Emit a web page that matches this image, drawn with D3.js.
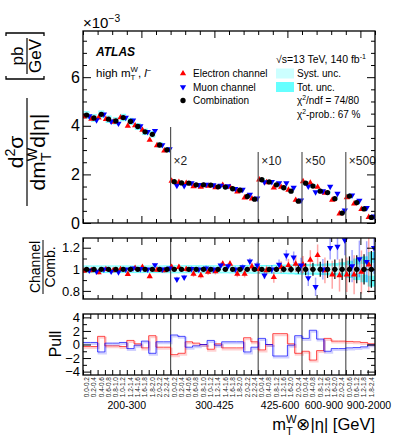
<!DOCTYPE html>
<html>
<head>
<meta charset="utf-8">
<style>
  html, body { margin: 0; overflow: hidden; background: #fff; }
  svg { display: block; font-family: "Liberation Sans", Arial, Helvetica, sans-serif; }
  .frame { fill: none; stroke: #000; stroke-width: 1.3px; }
  .axis path { display: none; }
  .axis line { stroke: #000; stroke-width: 1px; }
  .axis text { fill: #000; font-family: "Liberation Sans", Arial, sans-serif; }
  .sep { stroke: #555; stroke-width: 1.2px; }
</style>
<script src="https://d3js.org/d3.v7.min.js"></script>
</head>
<body>
<svg id="svg" width="399" height="437"></svg>
<script>
// ---- data ----
var mtBins = ["200-300", "300-425", "425-600", "600-900", "900-2000"];
var mtScale = [1, 2, 10, 50, 500];
var etaFine = ["0.0-0.2", "0.2-0.4", "0.4-0.6", "0.6-0.8", "0.8-1.0", "1.0-1.2",
               "1.2-1.4", "1.4-1.6", "1.6-1.8", "1.8-2.0", "2.0-2.2", "2.2-2.4"];
var etaMid = ["0.0-0.4", "0.4-0.8", "0.8-1.2", "1.2-1.6", "1.6-2.0", "2.0-2.4"];
var etaWide = ["0.0-0.6", "0.6-1.2", "1.2-1.8", "1.8-2.4"];
var etaPerMt = [etaFine, etaFine, etaMid, etaMid, etaWide];

// combined cross section, 1e-3 pb/GeV (unscaled)
var comb = [4.44, 4.32, 4.47, 4.27, 4.20, 4.34, 4.18, 3.97, 3.75, 3.65, 3.21, 3.01,
            0.850, 0.825, 0.820, 0.785, 0.785, 0.780, 0.745, 0.740, 0.705, 0.675, 0.545, 0.490,
            0.178, 0.169, 0.157, 0.145, 0.131, 0.090,
            0.0328, 0.0304, 0.0262, 0.0250, 0.0200, 0.0082,
            0.00222, 0.00168, 0.00116, 0.00046];
// relative uncertainties of the combination
var totUnc = [0.035, 0.035, 0.035, 0.035, 0.035, 0.035, 0.035, 0.035, 0.035, 0.035, 0.035, 0.036,
              0.037, 0.037, 0.037, 0.037, 0.037, 0.037, 0.037, 0.037, 0.038, 0.038, 0.039, 0.04,
              0.04, 0.04, 0.042, 0.044, 0.046, 0.05,
              0.05, 0.05, 0.052, 0.055, 0.058, 0.065,
              0.08, 0.10, 0.12, 0.16];
var systUnc = [0.026, 0.026, 0.026, 0.026, 0.026, 0.026, 0.026, 0.026, 0.026, 0.026, 0.026, 0.027,
               0.027, 0.027, 0.027, 0.027, 0.027, 0.027, 0.027, 0.027, 0.028, 0.028, 0.028, 0.029,
               0.028, 0.028, 0.029, 0.03, 0.031, 0.033,
               0.03, 0.03, 0.031, 0.032, 0.033, 0.036,
               0.038, 0.045, 0.05, 0.06];
var combErr = [0.006, 0.006, 0.006, 0.006, 0.006, 0.006, 0.006, 0.006, 0.006, 0.006, 0.007, 0.007,
               0.01, 0.01, 0.01, 0.01, 0.01, 0.01, 0.01, 0.01, 0.011, 0.012, 0.013, 0.015,
               0.02, 0.022, 0.025, 0.028, 0.03, 0.04,
               0.055, 0.06, 0.07, 0.08, 0.09, 0.10,
               0.12, 0.13, 0.14, 0.17];
// channel / combination
var ratioEl = [0.985, 0.99, 0.97, 1.0, 0.99, 1.0, 0.955, 1.01, 1.02, 0.935, 0.995, 0.99,
               1.02, 1.02, 1.0, 0.957, 0.944, 0.975, 0.98, 1.05, 1.05, 0.957, 0.957, 1.025,
               1.0, 0.99, 0.926, 1.02, 1.037, 1.05,
               1.043, 1.087, 1.13, 0.99, 0.95, 0.944,
               0.95, 0.95, 0.975, 1.043];
var ratioMu = [0.99, 0.98, 1.0, 0.98, 0.975, 1.0, 1.01, 1.005, 1.0, 1.04, 1.0, 1.01,
               0.907, 0.925, 1.005, 1.0, 1.01, 1.0, 1.037, 1.03, 1.0, 1.02, 1.074, 1.037,
               0.944, 1.0, 1.045, 1.13, 1.11, 1.037,
               0.92, 0.838, 1.0, 1.2, 1.21, 1.27,
               1.03, 1.096, 1.07, 1.2];
var errEl = [0.018, 0.018, 0.018, 0.018, 0.018, 0.018, 0.018, 0.018, 0.018, 0.018, 0.02, 0.02,
             0.028, 0.028, 0.028, 0.028, 0.028, 0.028, 0.028, 0.028, 0.03, 0.03, 0.032, 0.035,
             0.04, 0.045, 0.05, 0.055, 0.06, 0.075,
             0.08, 0.09, 0.10, 0.12, 0.13, 0.15,
             0.16, 0.18, 0.20, 0.26];
var errMu = [0.016, 0.016, 0.016, 0.016, 0.016, 0.016, 0.016, 0.016, 0.016, 0.016, 0.018, 0.018,
             0.025, 0.025, 0.025, 0.025, 0.025, 0.025, 0.025, 0.025, 0.027, 0.027, 0.03, 0.032,
             0.035, 0.04, 0.045, 0.05, 0.055, 0.07,
             0.075, 0.085, 0.095, 0.11, 0.12, 0.14,
             0.15, 0.17, 0.19, 0.24];
var pullEl = [-0.3, -0.3, 1.2, -0.2, -0.2, -0.3, 0.6, 0.1, -0.5, 1.3, -0.4, -0.4,
              -1.5, -1.3, 0.4, 0.2, 0.0, -0.7, 0.1, -0.5, -0.5, -0.5, 1.0, 0.4,
              -0.8, 0.0, 1.6, 1.6, 0.1, -1.3,
              -1.0, -2.3, -0.9, 0.9, 0.5, 0.5,
              0.45, 0.4, 0.3, 0.1];
var pullMu = [0.3, 0.3, -1.1, 0.2, 0.2, 0.3, -0.6, -0.1, 0.5, -1.3, 0.4, 0.4,
              1.4, 1.2, -0.4, -0.2, 0.0, 0.6, -0.1, 0.4, 0.4, 0.4, -1.1, -0.4,
              0.9, 0.0, -1.7, -1.7, -0.1, 1.3,
              0.9, 2.1, 0.8, -1.0, -0.6, -0.6,
              -0.5, -0.45, -0.35, -0.05];

// ---- layout ----
var L = 83, R = 375;
var top1 = 31, bot1 = 223, top2 = 238, bot2 = 299, top3 = 314, bot3 = 375;
var svg = d3.select("#svg");

var bins = [];
etaPerMt.forEach(function(etas, m) {
  etas.forEach(function(eta) { bins.push({ mt: m, eta: eta }); });
});
bins.forEach(function(b, i) {
  b.i = i;
  b.v = comb[i] * mtScale[b.mt];
});
var nBins = bins.length;
var sectionStart = [];
bins.forEach(function(b) { if (sectionStart.length === b.mt) sectionStart.push(b.i); });

var x = d3.scaleLinear().domain([0, nBins]).range([L, R]);
var bw = x(1) - x(0);
var yTop = d3.scaleLinear().domain([0, 7.9]).range([bot1, top1]);
var yRat = d3.scaleLinear().domain([0.725, 1.29]).range([bot2, top2]);
var yPull = d3.scaleLinear().domain([-4.5, 4.5]).range([bot3, top3]);

var redC = "#ff0000", blueC = "#0000ff";
var triUp = d3.symbol().type(d3.symbolTriangle).size(17);
var circ = d3.symbol().type(d3.symbolCircle).size(22);
var off = 0.36 * bw;

// clip paths for panels
var defs = svg.append("defs");
[[top1, bot1, "c1"], [top2, bot2, "c2"], [top3, bot3, "c3"]].forEach(function(p) {
  defs.append("clipPath").attr("id", p[2]).append("rect")
    .attr("x", L).attr("y", p[0]).attr("width", R - L).attr("height", p[1] - p[0]);
});

function range(a, b, s) { var r = []; for (var v = a; v <= b + 1e-9; v += s) r.push(+v.toFixed(4)); return r; }

function axes(sc, t, b, major, minor, fmt, fs, xMajor, xMinor, xMajLen, xMinLen) {
  var g = svg.append("g");
  g.append("g").attr("class", "axis").attr("transform", "translate(" + L + ",0)")
    .call(d3.axisLeft(sc).tickValues(major).tickSize(-8).tickPadding(3).tickFormat(fmt))
    .selectAll("text").style("font-size", fs + "px");
  g.append("g").attr("class", "axis").attr("transform", "translate(" + L + ",0)")
    .call(d3.axisLeft(sc).tickValues(minor).tickSize(-4).tickFormat(""));
  g.append("g").attr("class", "axis").attr("transform", "translate(" + R + ",0)")
    .call(d3.axisRight(sc).tickValues(major).tickSize(-8).tickFormat(""));
  g.append("g").attr("class", "axis").attr("transform", "translate(" + R + ",0)")
    .call(d3.axisRight(sc).tickValues(minor).tickSize(-4).tickFormat(""));
  [[b, d3.axisBottom], [t, d3.axisTop]].forEach(function(p) {
    g.append("g").attr("class", "axis").attr("transform", "translate(0," + p[0] + ")")
      .call(p[1](x).tickValues(xMajor).tickSize(-xMajLen).tickFormat(""));
    g.append("g").attr("class", "axis").attr("transform", "translate(0," + p[0] + ")")
      .call(p[1](x).tickValues(xMinor).tickSize(-xMinLen).tickFormat(""));
  });
  g.append("rect").attr("class", "frame").attr("x", L).attr("y", t)
    .attr("width", R - L).attr("height", b - t);
}

// ================= top panel =================
var p1 = svg.append("g").attr("clip-path", "url(#c1)");
p1.selectAll("rect.tot").data(bins).enter().append("rect")
  .attr("x", function(d) { return x(d.i + 0.1); }).attr("width", bw * 0.8)
  .attr("y", function(d) { return yTop(d.v * (1 + totUnc[d.i])); })
  .attr("height", function(d) { return yTop(d.v * (1 - totUnc[d.i])) - yTop(d.v * (1 + totUnc[d.i])); })
  .attr("fill", "#66ffff");
p1.selectAll("rect.syst").data(bins).enter().append("rect")
  .attr("x", function(d) { return x(d.i + 0.1); }).attr("width", bw * 0.8)
  .attr("y", function(d) { return yTop(d.v * (1 + systUnc[d.i])); })
  .attr("height", function(d) { return yTop(d.v * (1 - systUnc[d.i])) - yTop(d.v * (1 + systUnc[d.i])); })
  .attr("fill", "#ccffff");

// separators with scale labels
var sepTop = [127, 152, 152, 152];
sectionStart.slice(1).forEach(function(s, k) {
  svg.append("line").attr("class", "sep")
    .attr("x1", x(s)).attr("x2", x(s)).attr("y1", sepTop[k]).attr("y2", bot1);
  svg.append("text").attr("x", x(s) + 3).attr("y", 165)
    .attr("font-size", 12).attr("fill", "#222")
    .text("\u00d7" + mtScale[k + 1]);
});

p1.selectAll("path.el").data(bins).enter().append("path")
  .attr("d", triUp).attr("fill", redC)
  .attr("transform", function(d) { return "translate(" + (x(d.i + 0.5) - off) + "," + yTop(d.v * ratioEl[d.i]) + ")"; });
p1.selectAll("path.mu").data(bins).enter().append("path")
  .attr("d", triUp).attr("fill", blueC)
  .attr("transform", function(d) { return "translate(" + (x(d.i + 0.5) + off) + "," + yTop(d.v * ratioMu[d.i]) + ") rotate(180)"; });
p1.selectAll("path.cb").data(bins).enter().append("path")
  .attr("d", circ).attr("fill", "#000")
  .attr("transform", function(d) { return "translate(" + x(d.i + 0.5) + "," + yTop(d.v) + ")"; });

axes(yTop, top1, bot1, [0, 2, 4, 6], range(0, 7.5, 0.5).filter(function(v) { return v % 2 !== 0; }),
     d3.format("d"), 16, [8, 18, 28, 38], range(0, 40, 2).filter(function(v) { return (v - 8) % 10 !== 0; }), 7, 4);

// ================= ratio panel =================
var p2 = svg.append("g").attr("clip-path", "url(#c2)");
p2.selectAll("rect.tot").data(bins).enter().append("rect")
  .attr("x", function(d) { return x(d.i); }).attr("width", bw + 0.3)
  .attr("y", function(d) { return yRat(1 + totUnc[d.i]); })
  .attr("height", function(d) { return yRat(1 - totUnc[d.i]) - yRat(1 + totUnc[d.i]); })
  .attr("fill", "#66ffff");
p2.selectAll("rect.syst").data(bins).enter().append("rect")
  .attr("x", function(d) { return x(d.i); }).attr("width", bw + 0.3)
  .attr("y", function(d) { return yRat(1 + systUnc[d.i]); })
  .attr("height", function(d) { return yRat(1 - systUnc[d.i]) - yRat(1 + systUnc[d.i]); })
  .attr("fill", "#ccffff");
sectionStart.slice(1).forEach(function(s) {
  p2.append("line").attr("class", "sep").attr("x1", x(s)).attr("x2", x(s)).attr("y1", top2).attr("y2", bot2);
});
// channel error bars
[[ratioEl, errEl, redC, -off], [ratioMu, errMu, blueC, off]].forEach(function(c) {
  p2.selectAll(null).data(bins).enter().append("line")
    .attr("x1", function(d) { return x(d.i + 0.5) + c[3]; }).attr("x2", function(d) { return x(d.i + 0.5) + c[3]; })
    .attr("y1", function(d) { return yRat(c[0][d.i] - c[1][d.i]); })
    .attr("y2", function(d) { return yRat(c[0][d.i] + c[1][d.i]); })
    .attr("stroke", c[2]).attr("stroke-opacity", 0.35).attr("stroke-width", 1.5);
});
// combination error bars
p2.selectAll(null).data(bins).enter().append("line")
  .attr("x1", function(d) { return x(d.i + 0.5); }).attr("x2", function(d) { return x(d.i + 0.5); })
  .attr("y1", function(d) { return yRat(1 - combErr[d.i]); })
  .attr("y2", function(d) { return yRat(1 + combErr[d.i]); })
  .attr("stroke", "#000").attr("stroke-width", 1.2);
p2.selectAll(null).data(bins).enter().append("line")
  .attr("x1", function(d) { return x(d.i + 0.15); }).attr("x2", function(d) { return x(d.i + 0.85); })
  .attr("y1", yRat(1)).attr("y2", yRat(1))
  .attr("stroke", "#000").attr("stroke-width", 1.2);
p2.selectAll(null).data(bins).enter().append("path")
  .attr("d", triUp).attr("fill", redC)
  .attr("transform", function(d) { return "translate(" + (x(d.i + 0.5) - off) + "," + yRat(ratioEl[d.i]) + ")"; });
p2.selectAll(null).data(bins).enter().append("path")
  .attr("d", triUp).attr("fill", blueC)
  .attr("transform", function(d) { return "translate(" + (x(d.i + 0.5) + off) + "," + yRat(ratioMu[d.i]) + ") rotate(180)"; });
p2.selectAll(null).data(bins).enter().append("path")
  .attr("d", circ).attr("fill", "#000")
  .attr("transform", function(d) { return "translate(" + x(d.i + 0.5) + "," + yRat(1) + ")"; });

axes(yRat, top2, bot2, [0.8, 1, 1.2], [0.9, 1.1], function(v) { return v === 1 ? "1" : d3.format(".1f")(v); },
     13, [8, 18, 28, 38], range(0, 40, 2).filter(function(v) { return (v - 8) % 10 !== 0; }), 7, 4);

// ================= pull panel =================
var p3 = svg.append("g").attr("clip-path", "url(#c3)");
sectionStart.slice(1).forEach(function(s) {
  p3.append("line").attr("class", "sep").attr("x1", x(s)).attr("x2", x(s)).attr("y1", top3).attr("y2", bot3);
});
var step = d3.line().curve(d3.curveStepAfter)
  .x(function(d) { return x(d[0]); }).y(function(d) { return yPull(d[1]); });
[[pullEl, redC], [pullMu, blueC]].forEach(function(c) {
  var pts = c[0].map(function(v, i) { return [i, v]; });
  pts.push([nBins, c[0][nBins - 1]]);
  p3.append("path").attr("d", step(pts)).attr("fill", "none")
    .attr("stroke", c[1]).attr("stroke-opacity", 0.18).attr("stroke-width", 2)
    .attr("transform", "translate(1,1.5)");
  p3.append("path").attr("d", step(pts)).attr("fill", "none")
    .attr("stroke", c[1]).attr("stroke-opacity", 0.7).attr("stroke-width", 1);
});
axes(yPull, top3, bot3, [-4, -2, 0, 2, 4], [-3, -1, 1, 3], function(v) { return v < 0 ? "\u2212" + (-v) : v; },
     13, [], range(0, 40, 1), 5, 5);

// ================= bin labels =================
svg.append("g").selectAll("text").data(bins).enter().append("text")
  .attr("transform", function(d) { return "translate(" + (x(d.i + 0.5) + 2.3) + "," + (bot3 + 2) + ") rotate(-90)"; })
  .attr("text-anchor", "end").attr("font-size", 6.5).attr("fill", "#222")
  .text(function(d) { return d.eta; });
mtBins.forEach(function(m, k) {
  var a = x(sectionStart[k]);
  var b = k + 1 < mtBins.length ? x(sectionStart[k + 1]) : R;
  var last = k === mtBins.length - 1;
  svg.append("text").attr("x", last ? a + 1 : (a + b) / 2).attr("y", 408.5)
    .attr("text-anchor", last ? "start" : "middle").attr("font-size", 10.5).text(m);
});

// ================= text helpers =================
function supSub(t, base, sup, sub, fs, after) {
  t.append("tspan").text(base);
  var s = fs * 0.68;
  var a = t.append("tspan").attr("font-size", s).attr("dy", -fs * 0.4).text(sup);
  var wa = a.node().getComputedTextLength();
  var b = t.append("tspan").attr("font-size", s).attr("dx", -wa).attr("dy", fs * 0.68).text(sub);
  var wb = b.node().getComputedTextLength();
  if (after) t.append("tspan").attr("dx", Math.max(0, wa - wb)).attr("dy", -fs * 0.28).text(after);
  return t;
}
function sup(t, base, s, fs, after) {
  t.append("tspan").text(base);
  t.append("tspan").attr("font-size", fs * 0.68).attr("dy", -fs * 0.4).text(s);
  if (after) t.append("tspan").attr("dy", fs * 0.4).text(after);
  return t;
}

// axis titles
var yt = svg.append("g").attr("transform", "translate(27,152) rotate(-90)");
sup(yt.append("text").attr("text-anchor", "middle").attr("y", -4).attr("font-size", 21), "d", "2", 21, "\u03c3");
yt.append("line").attr("x1", -54).attr("x2", 54).attr("stroke", "#000").attr("stroke-width", 1.2);
var den = yt.append("text").attr("text-anchor", "middle").attr("y", 18).attr("font-size", 21);
supSub(den, "dm", "W", "T", 21, "d|\u03b7|");

var yu = svg.append("g").attr("transform", "translate(27,56) rotate(-90)");
yu.append("text").attr("text-anchor", "middle").attr("y", -4).attr("font-size", 17).text("pb");
yu.append("line").attr("x1", -18).attr("x2", 18).attr("stroke", "#000").attr("stroke-width", 1.2);
yu.append("text").attr("text-anchor", "middle").attr("y", 14).attr("font-size", 17).text("GeV");
yu.append("path").attr("d", "M-20,-21h-3v38h3 M20,-21h3v38h-3").attr("fill", "none")
  .attr("stroke", "#000").attr("stroke-width", 1.3);

var yr = svg.append("g").attr("transform", "translate(43,267) rotate(-90)");
yr.append("text").attr("text-anchor", "middle").attr("y", -3).attr("font-size", 14).text("Channel");
yr.append("line").attr("x1", -27).attr("x2", 27).attr("stroke", "#000").attr("stroke-width", 1);
yr.append("text").attr("text-anchor", "middle").attr("y", 12).attr("font-size", 14).text("Comb.");

svg.append("text").attr("transform", "translate(61,344) rotate(-90)")
  .attr("text-anchor", "middle").attr("font-size", 16).text("Pull");

supSub(svg.append("text").attr("x", R).attr("y", 430).attr("text-anchor", "end").attr("font-size", 16.5),
       "m", "W", "T", 16.5, "\u2297|\u03b7| [GeV]");

sup(svg.append("text").attr("x", 83).attr("y", 28).attr("font-size", 15), "\u00d710", "\u22123", 15);

// ================= legend =================
svg.append("text").attr("x", 96).attr("y", 56).attr("font-size", 12)
  .attr("font-weight", "bold").attr("font-style", "italic").text("ATLAS");
var hm = svg.append("text").attr("x", 96).attr("y", 77).attr("font-size", 11.5);
supSub(hm, "high m", "W", "T", 11.5, ", ");
hm.append("tspan").attr("font-style", "italic").text("l");
hm.append("tspan").attr("font-size", 8).attr("dy", -4.5).text("\u2212");

sup(svg.append("text").attr("x", 366).attr("y", 63).attr("text-anchor", "end").attr("font-size", 10.5),
    "\u221as=13 TeV, 140 fb", "-1", 10.5);

var legRows = [73.5, 87, 100.5];
svg.append("path").attr("d", triUp).attr("fill", redC).attr("transform", "translate(183," + legRows[0] + ")");
svg.append("path").attr("d", triUp).attr("fill", blueC).attr("transform", "translate(183," + legRows[1] + ") rotate(180)");
svg.append("path").attr("d", circ).attr("fill", "#000").attr("transform", "translate(183," + legRows[2] + ")");
["Electron channel", "Muon channel", "Combination"].forEach(function(s, k) {
  svg.append("text").attr("x", 193).attr("y", legRows[k] + 3.6).attr("font-size", 10).text(s);
});
svg.append("rect").attr("x", 276).attr("y", legRows[0] - 5).attr("width", 18).attr("height", 10).attr("fill", "#ccffff");
svg.append("rect").attr("x", 276).attr("y", legRows[1] - 5).attr("width", 18).attr("height", 10).attr("fill", "#66ffff");
svg.append("text").attr("x", 297).attr("y", legRows[0] + 3.6).attr("font-size", 10).text("Syst. unc.");
svg.append("text").attr("x", 297).attr("y", legRows[1] + 3.6).attr("font-size", 10).text("Tot. unc.");
sup(svg.append("text").attr("x", 297).attr("y", legRows[2] + 3.6).attr("font-size", 10), "\u03c7", "2", 10, "/ndf = 74/80");
sup(svg.append("text").attr("x", 297).attr("y", legRows[2] + 17.1).attr("font-size", 10), "\u03c7", "2", 10, "-prob.: 67 %");
</script>
</body>
</html>
